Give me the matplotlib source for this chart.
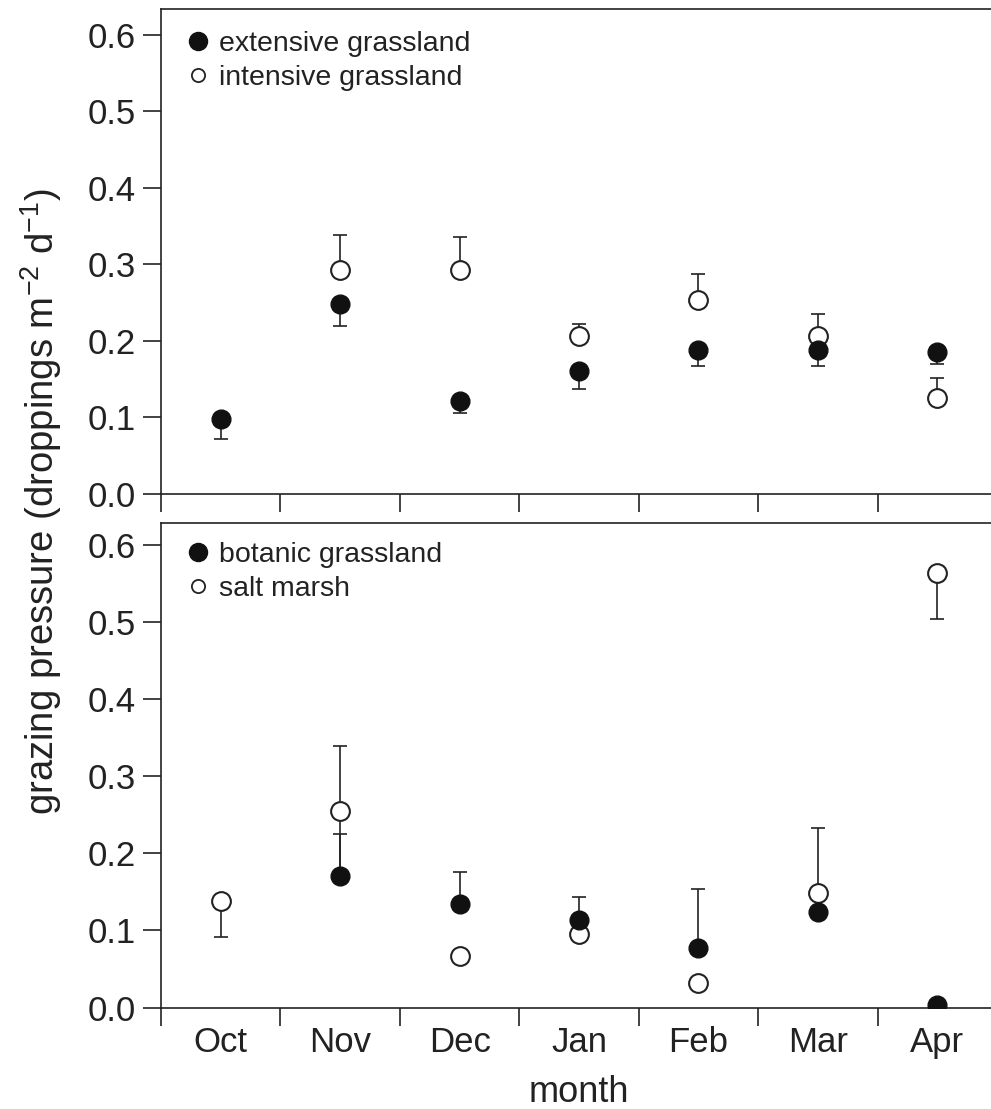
import numpy as np
import matplotlib
matplotlib.use('Agg')
import matplotlib.pyplot as plt
from matplotlib.lines import Line2D
from matplotlib.ticker import FormatStrFormatter

plt.rcParams['font.family'] = ['Liberation Sans', 'DejaVu Sans']
plt.rcParams['mathtext.fontset'] = 'custom'
plt.rcParams['mathtext.rm'] = 'Liberation Sans'
plt.rcParams['mathtext.it'] = 'Liberation Sans'

# --- data ---
months = ['Oct', 'Nov', 'Dec', 'Jan', 'Feb', 'Mar', 'Apr']
nan = np.nan

# top panel
ext_mean = [0.098, 0.248, 0.122, 0.160, 0.188, 0.188, 0.186]
ext_low = [0.072, 0.220, 0.106, 0.137, 0.167, 0.167, 0.170]
ext_high = [nan, nan, nan, nan, nan, nan, nan]
int_mean = [nan, 0.293, 0.293, 0.206, 0.253, 0.207, 0.126]
int_low = [nan, nan, nan, nan, nan, nan, nan]
int_high = [nan, 0.338, 0.336, 0.222, 0.288, 0.235, 0.152]

# bottom panel
bot_mean = [nan, 0.170, 0.134, 0.114, 0.077, 0.124, 0.003]
bot_low = [nan, nan, nan, nan, nan, nan, nan]
bot_high = [nan, 0.225, 0.176, 0.143, 0.153, nan, nan]
salt_mean = [0.138, 0.255, 0.067, 0.095, 0.032, 0.149, 0.563]
salt_low = [0.091, 0.175, nan, nan, nan, nan, 0.503]
salt_high = [nan, 0.339, nan, nan, nan, 0.233, nan]

FS = 25
INK = '#222222'


def one_sided(ax, mean, low, high):
    x = np.arange(len(mean))
    mean = np.asarray(mean, float)
    for bound, side in ((low, 'low'), (high, 'high')):
        bound = np.asarray(bound, float)
        ok = np.isfinite(bound) & np.isfinite(mean)
        if not ok.any():
            continue
        d = np.abs(mean[ok] - bound[ok])
        z = np.zeros_like(d)
        yerr = [d, z] if side == 'low' else [z, d]
        ax.errorbar(x[ok], mean[ok], yerr=yerr, fmt='none', ecolor=INK,
                    elinewidth=1.2, capsize=4.8, capthick=1.2, zorder=1)


def panel(ax, filled, f_low, f_high, opened, o_low, o_high, labels, ymax, leg_y):
    x = np.arange(len(months))
    one_sided(ax, filled, f_low, f_high)
    one_sided(ax, opened, o_low, o_high)
    ax.plot(x, opened, 'o', ms=13.5, mfc='white', mec=INK, mew=1.5,
            ls='none', zorder=2)
    ax.plot(x, filled, 'o', ms=13.5, mfc='#111111', mec='#111111', mew=1.0,
            ls='none', zorder=3)

    ax.set_xlim(-0.5, 6.5)
    ax.set_ylim(0, ymax)
    ax.set_xticks(np.arange(-0.5, 7.0, 1.0))
    ax.set_xticklabels([])
    ax.set_xticks(x, minor=True)
    ax.set_yticks(np.arange(0, 0.61, 0.1))
    ax.yaxis.set_major_formatter(FormatStrFormatter('%.1f'))
    ax.tick_params(axis='both', which='major', direction='out', length=13,
                   width=1.2, color=INK, labelsize=FS, labelcolor=INK, pad=5)
    ax.tick_params(axis='x', which='minor', length=0, pad=13,
                   labelsize=FS, labelcolor=INK)
    for s in ('left', 'top', 'bottom'):
        ax.spines[s].set_linewidth(1.2)
        ax.spines[s].set_color(INK)
    ax.spines['right'].set_visible(False)

    handles = [
        Line2D([], [], marker='o', ls='none', ms=13, mfc='#111111', mec='#111111'),
        Line2D([], [], marker='o', ls='none', ms=9.5, mfc='white', mec=INK, mew=1.3),
    ]
    ax.legend(handles, labels, loc='upper left', bbox_to_anchor=(0.03, leg_y),
              frameon=False, fontsize=20.5, handlelength=0.8, handletextpad=0.35,
              labelspacing=0.28, borderaxespad=0, borderpad=0, labelcolor=INK)


fig = plt.figure(figsize=(9.91, 11.09), dpi=100)
ax1 = fig.add_axes([0.1625, 0.5546, 0.8436, 0.4369])
ax2 = fig.add_axes([0.1625, 0.0915, 0.8436, 0.4369])

panel(ax1, ext_mean, ext_low, ext_high, int_mean, int_low, int_high,
      ['extensive grassland', 'intensive grassland'], 0.633, 0.955)
panel(ax2, bot_mean, bot_low, bot_high, salt_mean, salt_low, salt_high,
      ['botanic grassland', 'salt marsh'], 0.628, 0.96)

ax2.set_xticklabels(months, minor=True)
ax2.set_xlabel('month', fontsize=26, color=INK, labelpad=12)

fig.text(0.041, 1 - 502 / 1109, 'grazing pressure (droppings m$^{-2}$ d$^{-1}$)',
         rotation=90, ha='center', va='center', fontsize=27.5, color=INK)

fig.savefig('out.png', dpi=100)
